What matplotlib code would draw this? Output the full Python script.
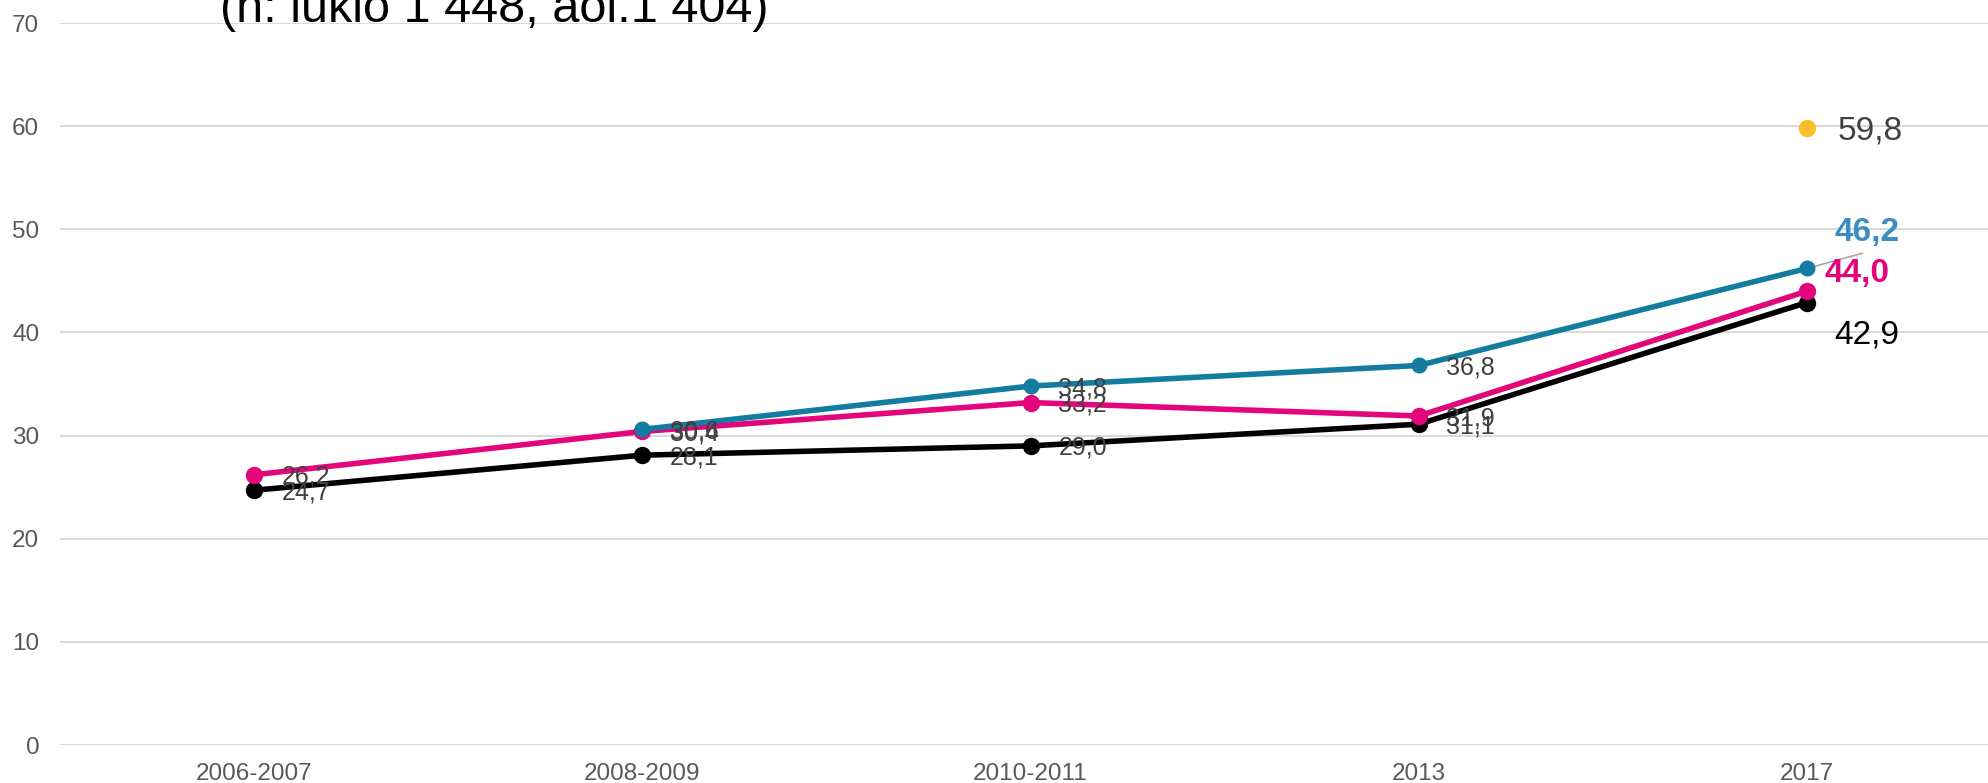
import numpy as np
import matplotlib
matplotlib.use('Agg')
import matplotlib.pyplot as plt

plt.rcParams['font.family'] = ['Liberation Sans', 'DejaVu Sans']

# Données
vuodet = ['2006-2007', '2008-2009', '2010-2011', '2013', '2017']
musta = [24.7, 28.1, 29.0, 31.1, 42.9]
pinkki = [26.2, 30.4, 33.2, 31.9, 44.0]
sininen = [np.nan, 30.6, 34.8, 36.8, 46.2]
keltainen = 59.8
otsikko = '(n: lukio 1 448, aol.1 404)'

c_musta = '#000000'
c_pinkki = '#e2067a'
c_sininen = '#137ca0'
c_sininen_teksti = '#3b8ec0'
c_keltainen = '#fbbf2c'
c_teksti = '#404040'

def fmt(v):
    return f'{v:.1f}'.replace('.', ',')

W, H = 1988, 783
fig = plt.figure(figsize=(W / 100, H / 100), dpi=100)
ax = fig.add_axes([60 / W, 1 - 745 / H, 1 - 60 / W, (745 - 23) / H])

x = np.arange(len(vuodet))

ax.plot(x, musta, color=c_musta, lw=4, marker='o', ms=11.5, zorder=3)
ax.plot(x, pinkki, color=c_pinkki, lw=4, marker='o', ms=11.5, zorder=4)
ax.plot(x, sininen, color=c_sininen, lw=4, marker='o', ms=10.5, zorder=5)
ax.plot([x[-1]], [keltainen], color=c_keltainen, marker='o', ms=11.5, ls='none', zorder=5)

# Arvot keskipisteissä
for sarja in (musta, pinkki, sininen):
    for i in range(len(vuodet) - 1):
        v = sarja[i]
        if np.isnan(v):
            continue
        ax.annotate(fmt(v), (x[i], v), xytext=(20, -1.5), textcoords='offset points',
                    ha='left', va='center', fontsize=18, color=c_teksti, zorder=6)

# Viimeiset arvot
k = x[-1]
ax.annotate(fmt(keltainen), (k, keltainen), xytext=(22, -2), textcoords='offset points',
            ha='left', va='center', fontsize=24, color=c_teksti, zorder=6)
ax.annotate(fmt(sininen[-1]), (k, sininen[-1]), xytext=(20, 26), textcoords='offset points',
            ha='left', va='center', fontsize=24, fontweight='bold', color=c_sininen_teksti, zorder=6)
ax.annotate('', (k, sininen[-1]), xytext=(40, 11), textcoords='offset points',
            arrowprops=dict(arrowstyle='-', color='#a6a6a6', lw=1.2, shrinkA=0, shrinkB=0), zorder=2)
ax.annotate(fmt(pinkki[-1]), (k, pinkki[-1]), xytext=(13, 13), textcoords='offset points',
            ha='left', va='center', fontsize=24, fontweight='bold', color=c_pinkki, zorder=6)
ax.annotate(fmt(musta[-1]), (k, musta[-1]), xytext=(20, -23.5), textcoords='offset points',
            ha='left', va='center', fontsize=24, color=c_musta, zorder=6)

ax.set_xlim(-0.5, (W - 255) / 388)
ax.set_ylim(0, 70)
ax.set_yticks(range(0, 71, 10))
ax.set_xticks(x)
ax.set_xticklabels(vuodet)
ax.tick_params(axis='both', length=0, labelsize=17.5, labelcolor='#595959')
ax.tick_params(axis='y', pad=15)
ax.tick_params(axis='x', pad=13)
ax.yaxis.grid(True, color='#d9d9d9', lw=1.4)
ax.set_axisbelow(True)
for s in ax.spines.values():
    s.set_visible(False)

fig.text(220 / W, 1 - 22 / H, otsikko, fontsize=35, color='#000000', va='baseline', ha='left')

fig.savefig('out.png', dpi=100)
